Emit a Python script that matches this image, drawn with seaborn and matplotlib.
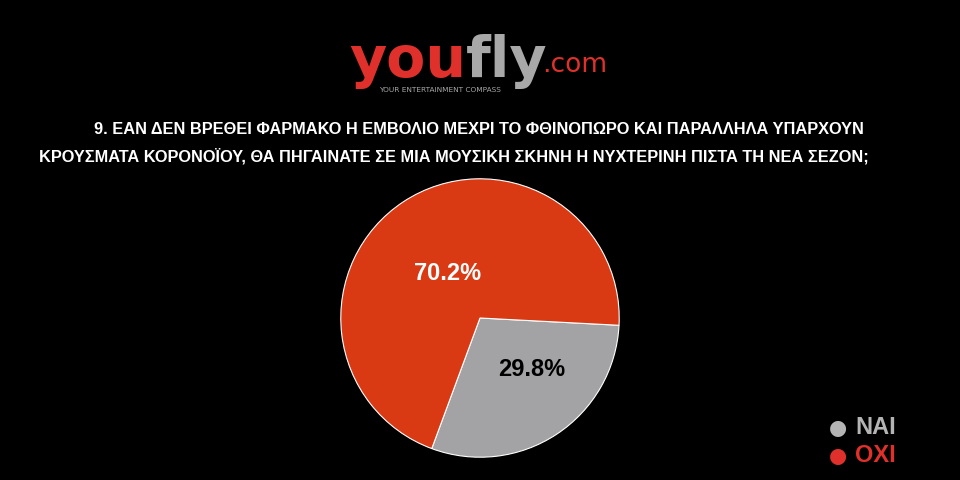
import matplotlib
matplotlib.use("Agg")
import matplotlib.pyplot as plt
import seaborn as sns

# ── Data ────────────────────────────────────────────────────────────────────
answers = ["ΝΑΙ", "ΟΧΙ"]
shares = [29.8, 70.2]
title_lines = [
    "9. ΕΑΝ ΔΕΝ ΒΡΕΘΕΙ ΦΑΡΜΑΚΟ Η ΕΜΒΟΛΙΟ ΜΕΧΡΙ ΤΟ ΦΘΙΝΟΠΩΡΟ ΚΑΙ ΠΑΡΑΛΛΗΛΑ ΥΠΑΡΧΟΥΝ",
    "ΚΡΟΥΣΜΑΤΑ ΚΟΡΟΝΟΪΟΥ, ΘΑ ΠΗΓΑΙΝΑΤΕ ΣΕ ΜΙΑ ΜΟΥΣΙΚΗ ΣΚΗΝΗ Η ΝΥΧΤΕΡΙΝΗ ΠΙΣΤΑ ΤΗ ΝΕΑ ΣΕΖΟΝ;",
]

sns.set_style("dark")
plt.rcParams["font.family"] = ["Liberation Sans", "DejaVu Sans"]

pie_colors = sns.color_palette(["#a3a2a4", "#d93a14"])
legend_colors = ["#b4b4b4", "#e0302c"]

fig = plt.figure(figsize=(9.6, 4.8), dpi=100, facecolor="black")
renderer = fig.canvas.get_renderer()

# logo
fig.text(0.4855, 0.84, "you", color="#e0302c", fontsize=41, fontweight="bold",
         family="DejaVu Sans", ha="right", va="baseline")
fig.text(0.485, 0.84, "fly", color="#a8a8a8", fontsize=41, fontweight="bold",
         family="DejaVu Sans", ha="left", va="baseline")
fig.text(0.565, 0.85, ".com", color="#e0302c", fontsize=19,
         family="DejaVu Sans", ha="left", va="baseline")
fig.text(0.458, 0.812, "YOUR ENTERTAINMENT COMPASS", color="#a8a8a8", fontsize=5.3,
         family="DejaVu Sans", ha="center", va="center")

# question: both lines share one size, fitted so the widest spans ~830 px
t1 = fig.text(479 / 960, 1 - 130 / 480, title_lines[0], color="white", fontsize=14,
              fontweight="bold", ha="center", va="center")
t2 = fig.text(454 / 960, 1 - 156 / 480, title_lines[1], color="white", fontsize=14,
              fontweight="bold", ha="center", va="center")
widest = max(t.get_window_extent(renderer).width for t in (t1, t2))
for t in (t1, t2):
    t.set_fontsize(14 * 830 / widest)

# pie
ax = fig.add_axes([338 / 960, 20 / 480, 284 / 960, 284 / 480])
ax.set_facecolor("black")
wedges, _ = ax.pie(shares, colors=pie_colors, startangle=-3, counterclock=False,
                   radius=1, wedgeprops=dict(edgecolor="white", linewidth=0.8))
ax.set_xlim(-1.02, 1.02)
ax.set_ylim(-1.02, 1.02)
ax.set_aspect("equal")
ax.axis("off")

ax.text(0.37, -0.37, f"{shares[0]}%", color="black", fontsize=17,
        fontweight="bold", ha="center", va="center")
ax.text(-0.23, 0.32, f"{shares[1]}%", color="white", fontsize=17,
        fontweight="bold", ha="center", va="center")

# legend
for i, (lab, col) in enumerate(zip(answers, legend_colors)):
    y = 1 - (428 + 28 * i) / 480
    fig.text(838 / 960, y, "●", color=col, fontsize=15, family="DejaVu Sans",
             ha="center", va="center")
    fig.text(855 / 960, y, lab, color=col, fontsize=17, fontweight="bold",
             ha="left", va="center")

fig.savefig("out.png", dpi=100, facecolor="black")
